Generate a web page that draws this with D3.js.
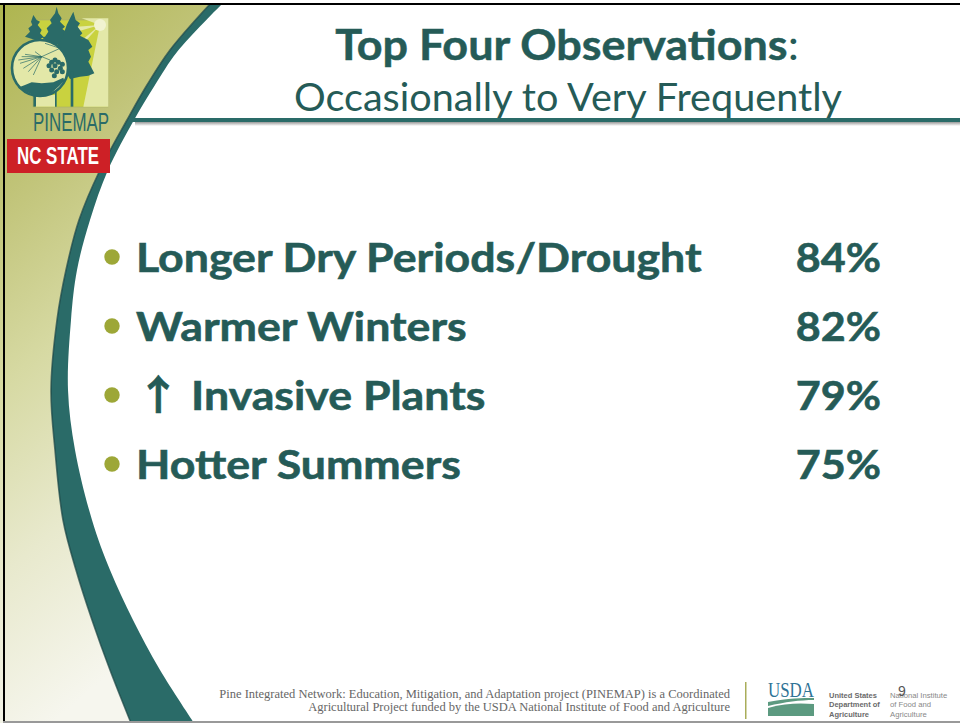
<!DOCTYPE html>
<html><head><meta charset="utf-8">
<script src="https://cdn.jsdelivr.net/npm/d3@7"></script>
<style>html,body{margin:0;padding:0;background:#fff}svg{display:block}text{font-family:Lato,"Open Sans",sans-serif}</style>
</head><body><div id="c"></div>
<script>
const categories = ["Longer Dry Periods/Drought","Warmer Winters","↑ Invasive Plants","Hotter Summers"];
const percentValues = [84,82,79,75];
const titleText = "Top Four Observations";
const subtitleText = "Occasionally to Very Frequently";
const footerLines = ["Pine Integrated Network: Education, Mitigation, and Adaptation project (PINEMAP) is a Coordinated","Agricultural Project funded by the USDA National Institute of Food and Agriculture"];
const usdaLines = ["United States","Department of","Agriculture"];
const nifaLines = ["National Institute","of Food and","Agriculture"];
const W=960,H=723, teal="#2a6b68", ink="#255b57", olive="#9da737";
const svg=d3.select("#c").append("svg").attr("width",W).attr("height",H);
const defs=svg.append("defs");
const g=defs.append("linearGradient").attr("id","panel").attr("x1","0").attr("y1","0").attr("x2","0.25").attr("y2","1");
[[0,"#aeb54f"],[0.25,"#c0c377"],[0.5,"#d6d9a2"],[0.75,"#e8e9cd"],[1,"#f6f6ee"]].forEach(d=>g.append("stop").attr("offset",d[0]).attr("stop-color",d[1]));
const sh=defs.append("linearGradient").attr("id","ruleShade").attr("x1","0").attr("y1","0").attr("x2","0").attr("y2","1");
sh.append("stop").attr("offset",0).attr("stop-color","#999");sh.append("stop").attr("offset",1).attr("stop-color","#fff");

const outer=[[210,4],[170,50],[147,85],[127,120],[100,170],[79,220],[66,270],[57,320],[51,390],[55,450],[63,520],[76,570],[92,620],[110,670],[131,723]];
const inner=[[222,4],[177,52],[155,85],[134,120],[108,170],[90,220],[77,270],[71,320],[68,390],[75,450],[92,520],[110,570],[133,620],[160,670],[194,723]];
const lineC=d3.line().curve(d3.curveCatmullRom);
svg.append("path").attr("d",lineC(outer)+"L0,723L0,4Z").attr("fill","url(#panel)");
svg.append("path").attr("d",lineC(outer)+"L"+lineC(inner.slice().reverse()).slice(1)+"Z").attr("fill",teal);
svg.append("path").attr("d",lineC(outer)).attr("fill","none").attr("stroke","#1c4644").attr("stroke-width",1.6).attr("opacity",.7);

// rule
svg.append("rect").attr("x",131).attr("y",118).attr("width",829).attr("height",4).attr("fill",teal);
svg.append("rect").attr("x",135).attr("y",122).attr("width",825).attr("height",4).attr("fill","url(#ruleShade)");

// frame
svg.append("rect").attr("x",0).attr("y",3).attr("width",W).attr("height",2).attr("fill","#000");
svg.append("rect").attr("x",3).attr("y",3).attr("width",2).attr("height",H-3).attr("fill","#000");
svg.append("rect").attr("x",3).attr("y",721).attr("width",W-3).attr("height",2).attr("fill","#999");

// logo (outline points given in a 3x logo grid, then scaled down)
const L=svg.append("g");
const pale="#e3e8a8", lime="#c9d23f";
const P=a=>d3.line()(a.map(p=>[5+p[0]/3,5+p[1]/3]))+"Z";
L.append("rect").attr("x",33).attr("y",20).attr("width",75).attr("height",87).attr("fill",lime).attr("stroke","#a9ad6a").attr("stroke-width",.6);
const rays=[[[285,60],[310,60],[310,305],[235,305]],[[285,60],[230,40],[310,40],[310,60]],[[285,60],[225,110],[240,110]],[[285,60],[215,65],[215,80]],[[90,305],[150,305],[150,270],[90,270]]];
rays.forEach(r=>L.append("path").attr("d",P(r)).attr("fill",pale));
L.append("circle").attr("cx",100).attr("cy",25).attr("r",6).attr("fill","#f1f3d0");
const trees=[
 [[85,30],[95,45],[105,50],[98,60],[110,75],[105,85],[115,95],[100,108],[60,95],[75,80],[70,70],[82,60],[78,50]],
 [[155,5],[160,25],[170,40],[165,50],[180,65],[172,72],[190,85],[180,122],[130,115],[110,96],[120,95],[130,80],[125,70],[140,55],[135,45],[150,25]],
 [[205,20],[212,45],[225,55],[218,65],[232,85],[225,92],[250,105],[262,125],[250,135],[258,155],[250,170],[268,205],[250,212],[225,215],[195,222],[150,150],[150,130],[165,110],[175,90],[185,60],[195,40]]];
trees.forEach(t=>L.append("path").attr("d",P(t)).attr("fill",teal));
[[85,93],[150,155],[197,205]].forEach(t=>L.append("path").attr("d",P([[t[0],200],[t[1],200],[t[1],305],[t[0],305]])).attr("fill",teal));
L.append("circle").attr("cx",40).attr("cy",68).attr("r",28).attr("fill",pale).attr("stroke",teal).attr("stroke-width",2.6);
const needles=[[50,155],[40,165],[45,175],[55,190],[70,200],[85,210],[60,148],[90,140],[165,130],[135,165]];
needles.forEach(p=>{const a=[5+110/3,5+155/3],b=[5+p[0]/3,5+p[1]/3];L.append("line").attr("x1",a[0]).attr("y1",a[1]).attr("x2",b[0]).attr("y2",b[1]).attr("stroke",teal).attr("stroke-width",.7);});
L.append("line").attr("x1",5+120/3).attr("y1",5+115/3).attr("x2",5+165/3).attr("y2",5+130/3).attr("stroke",teal).attr("stroke-width",.7);
[[150,165],[140,172],[160,172],[172,178],[132,182],[150,182],[166,190],[140,195],[155,200],[172,200],[148,212]].forEach(p=>L.append("circle").attr("cx",5+p[0]/3).attr("cy",5+p[1]/3).attr("r",2.5).attr("fill",teal));
L.append("path").attr("d",P([[38,248],[60,240],[80,232],[110,235],[145,232],[175,218],[178,228],[160,245],[135,268],[105,276],[80,268],[60,258]])).attr("fill",teal);
L.append("text").attr("x",71).attr("y",131).attr("text-anchor","middle").attr("font-size",26).attr("textLength",76).attr("lengthAdjust","spacingAndGlyphs").attr("fill",teal).style("font-family","'Liberation Sans Narrow','Liberation Sans',sans-serif").text("PINEMAP");
L.append("rect").attr("x",7).attr("y",139).attr("width",103).attr("height",34).attr("fill","#cd2026");
L.append("text").attr("x",58).attr("y",164).attr("text-anchor","middle").attr("font-size",23.5).attr("font-weight",700).attr("textLength",82).attr("lengthAdjust","spacingAndGlyphs").attr("fill","#fff").style("font-family","'Liberation Sans Narrow','Liberation Sans',sans-serif").text("NC STATE");

// titles
const ttl=svg.append("text").attr("transform","translate(567,60) scale(1.07,1)").attr("text-anchor","middle").attr("font-size",42).attr("fill",ink);
ttl.append("tspan").attr("font-weight",700).attr("stroke",ink).attr("stroke-width",.5).text(titleText);
ttl.append("tspan").attr("font-weight",400).text(":");
svg.append("text").attr("transform","translate(568,111) scale(1.016,1)").attr("text-anchor","middle").attr("font-size",39).attr("font-weight",400).attr("fill",ink).text(subtitleText);

// list
const y=d3.scalePoint().domain(categories).range([272,479]);
const rows=svg.append("g").selectAll("g").data(categories.map((c,i)=>({c,v:percentValues[i]}))).join("g").attr("transform",d=>`translate(0,${y(d.c)})`);
rows.append("circle").attr("cx",112).attr("cy",-15).attr("r",7.7).attr("fill",olive);
const labels=rows.append("text").attr("transform","translate(136,0) scale(1.09,1)").attr("font-size",41).attr("font-weight",700).attr("fill",ink).attr("stroke",ink).attr("stroke-width",.6);
labels.each(function(d){
  const t=d3.select(this);
  if(d.c.charCodeAt(0)>127){
    t.append("tspan").attr("x",0).style("font-family","'Noto Sans CJK JP','DejaVu Sans',sans-serif").attr("font-size",41).text(d.c.slice(0,1));
    t.append("tspan").attr("x",50.5).text(d.c.slice(2));
  } else t.text(d.c);
});
rows.append("text").attr("transform","translate(881,0) scale(1.05,1)").attr("text-anchor","end").attr("font-size",41).attr("font-weight",700).attr("fill",ink).attr("stroke",ink).attr("stroke-width",.6).text(d=>d.v+"%");

// footer
const F=svg.append("g");
footerLines.forEach((t,i)=>F.append("text").attr("x",730).attr("y",698+i*13).attr("text-anchor","end").attr("font-size",12.5).attr("fill","#666").style("font-family","'Liberation Serif',serif").text(t));
F.append("rect").attr("x",745).attr("y",682).attr("width",1.5).attr("height",37).attr("fill","#a9ad5a");
F.append("text").attr("x",768).attr("y",697).attr("font-size",21).attr("textLength",46).attr("lengthAdjust","spacingAndGlyphs").attr("fill","#2f7396").style("font-family","'Liberation Serif',serif").text("USDA");
F.append("path").attr("d","M768,702C788,698 803,698 814,698L814,700C800,700 785,702 768,706Z").attr("fill","#5c9a80");
F.append("path").attr("d","M768,708C785,703 800,703 814,704L814,716L768,716Z").attr("fill","#5c9a80");
usdaLines.forEach((t,i)=>F.append("text").attr("x",829).attr("y",697.5+i*9.5).attr("font-size",7.5).attr("font-weight",700).attr("fill","#6a6a6a").style("font-family","'Liberation Sans',sans-serif").text(t));
nifaLines.forEach((t,i)=>F.append("text").attr("x",890).attr("y",697.5+i*9.5).attr("font-size",7.7).attr("fill","#888").style("font-family","'Liberation Sans',sans-serif").text(t));
F.append("text").attr("x",898).attr("y",696).attr("font-size",14).attr("fill","#555").style("font-family","'Liberation Sans',sans-serif").text("9");
</script></body></html>
